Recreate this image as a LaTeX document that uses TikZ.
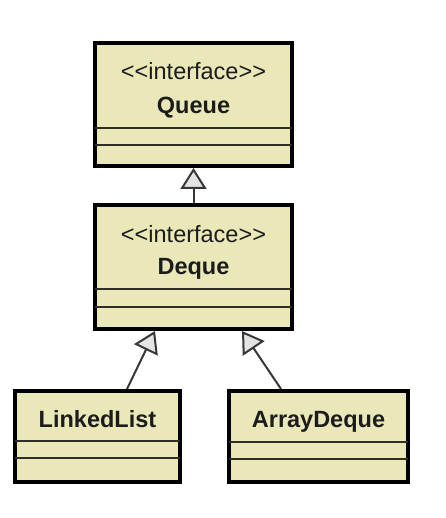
\documentclass[tikz,border=0pt]{standalone}
\usepackage{fontspec}
\setmainfont[Ligatures=TeXOff]{Liberation Sans}
\usetikzlibrary{arrows.meta}
\definecolor{classfill}{RGB}{234,232,184}
\definecolor{sepcol}{RGB}{45,45,38}
\definecolor{linkcol}{RGB}{55,55,55}
\definecolor{tipfill}{RGB}{228,228,228}
\definecolor{txtcol}{RGB}{28,28,28}
\tikzset{
  classbox/.style={draw=black, fill=classfill, line width=4pt, rectangle, inner sep=0pt},
  sepline/.style={draw=sepcol, line width=1.8pt, shorten <=2pt, shorten >=2pt},
  stereo/.style={anchor=base, inner sep=0pt, text=txtcol, font=\fontsize{23.5}{27}\selectfont},
  cname/.style={anchor=base, inner sep=0pt, text=txtcol, font=\fontsize{23.5}{27}\selectfont\bfseries},
  gen/.style={draw=linkcol, line width=2pt, -{Triangle[length=21pt,width=26pt,fill=tipfill]}, line join=miter}
}
\begin{document}
\begin{tikzpicture}[x=1pt,y=1pt]
\useasboundingbox (0,0) rectangle (445,-518);
\fill[white] (0,0) rectangle (445,-518);
% boxes
\node[classbox, minimum width=197pt, minimum height=123pt] (queue) at (193.5,-104.5) {};
\node[classbox, minimum width=197pt, minimum height=124pt] (deque) at (193.5,-267) {};
\node[classbox, minimum width=165pt, minimum height=91pt] (ll) at (97.5,-436.5) {};
\node[classbox, minimum width=179pt, minimum height=91pt] (ad) at (318.5,-436.5) {};
% compartments
\draw[sepline] (queue.west |- 0,-128) -- (queue.east |- 0,-128);
\draw[sepline] (queue.west |- 0,-145) -- (queue.east |- 0,-145);
\draw[sepline] (deque.west |- 0,-289) -- (deque.east |- 0,-289);
\draw[sepline] (deque.west |- 0,-307) -- (deque.east |- 0,-307);
\draw[sepline] (ll.west |- 0,-441) -- (ll.east |- 0,-441);
\draw[sepline] (ll.west |- 0,-458) -- (ll.east |- 0,-458);
\draw[sepline] (ad.west |- 0,-442) -- (ad.east |- 0,-442);
\draw[sepline] (ad.west |- 0,-459) -- (ad.east |- 0,-459);
% texts
\node[stereo] (qst) at (193.5,-80) {<<interface>>};
\node[cname] (qnm) at (193.5,-114) {Queue};
\node[stereo] (dst) at (193.5,-242) {<<interface>>};
\node[cname] (dnm) at (193.5,-274) {Deque};
\node[cname] (llnm) at (97.5,-427) {LinkedList};
\node[cname] (adnm) at (318.5,-427) {ArrayDeque};
% generalizations
\draw[gen] (deque.north) -- (queue.south);
\draw[gen] ([xshift=-55pt]ll.north east) -- ([xshift=-38.5pt]deque.south);
\draw[gen] ([xshift=54pt]ad.north west) -- ([xshift=48.5pt]deque.south);
\end{tikzpicture}
\end{document}
